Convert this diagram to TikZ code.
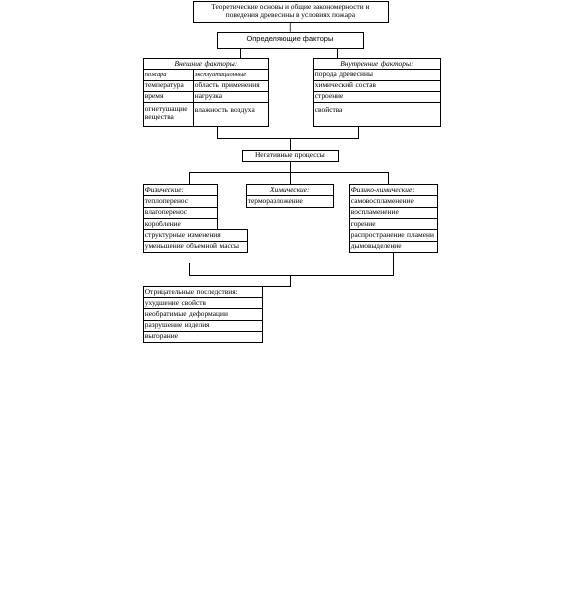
\documentclass[tikz,border=0pt]{standalone}
\usepackage{fontspec}
\setmainfont{Liberation Serif}
\setsansfont{Liberation Sans}
\usetikzlibrary{positioning}

\newcommand{\cellfont}{\fontsize{7.4}{8.2}\selectfont}

\tikzset{
  cellbase/.style={draw, line width=.8pt, anchor=north west, inner xsep=1.5pt,
    inner ysep=0pt, minimum height=11.3pt, align=left, font=\cellfont},
  cell/.style={cellbase, text height=5.6pt, text depth=1.6pt},
  headc/.style={cell, align=center, font=\cellfont\itshape},
  headl/.style={cell, font=\cellfont\itshape},
  box/.style={draw, line width=.8pt, align=center, inner sep=1pt, font=\cellfont},
  link/.style={line width=.8pt}
}

\begin{document}
\begin{tikzpicture}[x=1pt,y=-1pt]
    \useasboundingbox (0,0) rectangle (568,615);
    %title
    \node[box, minimum width=195pt, minimum height=21pt] (title) at (290.5,11.5)
      {Теоретические основы и общие закономерности и\\поведения древесины в условиях пожара};
    \node[box, minimum width=146pt, minimum height=16pt, font=\sffamily\cellfont] (factors) at (290,40)
      {Определяющие факторы};
    %external factors
    \node[headc, text width=122pt] (ext-h) at (143,58) {Внешние факторы:};
    \node[cell, text width=47pt, minimum height=11pt, font=\fontsize{6.4}{7}\selectfont\itshape] (ext-a1) at (143,69) {пожара};
    \node[cell, text width=72pt, minimum height=11pt, font=\fontsize{6.4}{7}\selectfont\itshape] (ext-b1) at (193,69) {эксплуатационные};
    \node[cell, text width=47pt, minimum height=11pt] (ext-a2) at (143,80) {температура};
    \node[cell, text width=72pt, minimum height=11pt] (ext-b2) at (193,80) {область применения};
    \node[cell, text width=47pt, minimum height=11pt] (ext-a3) at (143,91) {время};
    \node[cell, text width=72pt, minimum height=11pt] (ext-b3) at (193,91) {нагрузка};
    \node[cellbase, text width=47pt, minimum height=24pt] (ext-a4) at (143,102) {огнетушащие\\вещества};
    \node[cellbase, text width=72pt, minimum height=24pt] (ext-b4) at (193,102) {влажность воздуха\\\mbox{}};
    %internal factors
    \node[headc, text width=124pt] (int-h) at (313,58) {Внутренние факторы:};
    \node[cell, text width=124pt, minimum height=11pt] (int-1) at (313,69) {порода древесины};
    \node[cell, text width=124pt, minimum height=11pt] (int-2) at (313,80) {химический состав};
    \node[cell, text width=124pt, minimum height=11pt] (int-3) at (313,91) {строение};
    \node[cellbase, text width=124pt, minimum height=24pt] (int-4) at (313,102) {свойства\\\mbox{}};
    %negative processes
    \node[box, minimum width=96pt, minimum height=11pt] (neg) at (290,155.5) {Негативные процессы};
    %physical
    \node[headl, text width=71pt] (phys-h) at (143,184) {Физические:};
    \node[cell, text width=71pt] (phys-1) at (143,195.3) {теплоперенос};
    \node[cell, text width=71pt] (phys-2) at (143,206.7) {влагоперенос};
    \node[cell, text width=71pt] (phys-3) at (143,218) {коробление};
    \node[cell, text width=101pt] (phys-4) at (143,229.3) {структурные изменения};
    \node[cell, text width=101pt] (phys-5) at (143,240.7) {уменьшение объемной массы};
    %chemical
    \node[headc, text width=84pt] (chem-h) at (246,184) {Химические:};
    \node[cell, text width=84pt] (chem-1) at (246,195.3) {терморазложение};
    %physico-chemical
    \node[headl, text width=85pt] (pch-h) at (349,184) {Физико-химические:};
    \node[cell, text width=85pt] (pch-1) at (349,195.3) {самовоспламенение};
    \node[cell, text width=85pt] (pch-2) at (349,206.7) {воспламенение};
    \node[cell, text width=85pt] (pch-3) at (349,218) {горение};
    \node[cell, text width=85pt] (pch-4) at (349,229.3) {распространение пламени};
    \node[cell, text width=85pt] (pch-5) at (349,240.7) {дымовыделение};
    %consequences
    \node[cell, text width=116pt, minimum height=11.2pt] (cons-h) at (143,286) {Отрицательные последствия:};
    \node[cell, text width=116pt, minimum height=11.2pt] (cons-1) at (143,297.2) {ухудшение свойств};
    \node[cell, text width=116pt, minimum height=11.2pt] (cons-2) at (143,308.4) {необратимые деформации};
    \node[cell, text width=116pt, minimum height=11.2pt] (cons-3) at (143,319.6) {разрушение изделия};
    \node[cell, text width=116pt, minimum height=11.2pt] (cons-4) at (143,330.8) {выгорание};
    %junctions
    \coordinate (j1l) at (240,58);
    \coordinate (j1r) at (337,58);
    \coordinate (j2l) at (217,138);
    \coordinate (j2r) at (358,138);
    \coordinate (j3l) at (189,172);
    \coordinate (j3r) at (388,172);
    \coordinate (j4s) at (189,263);
    \coordinate (j4l) at (189,275);
    \coordinate (j4r) at (393,275);
    %connectors
    \draw[link] (title) -- (factors);
    \draw[link] (factors.south -| j1l) -- (j1l);
    \draw[link] (factors.south -| j1r) -- (j1r);
    \draw[link] (ext-b4.south -| j2l) -- (j2l) -- (j2r) -- (int-4.south -| j2r);
    \draw[link] (j2l -| neg.north) -- (neg.north);
    \draw[link] (neg.south) -- (neg.south |- j3l);
    \draw[link] (phys-h.north -| j3l) -- (j3l) -- (j3r) -- (pch-h.north -| j3r);
    \draw[link] (neg.south |- j3l) -- (chem-h.north -| neg.south);
    \draw[link] (j4s) -- (j4l) -- (j4r) -- (pch-5.south -| j4r);
    \draw[link] (j4l -| neg.south) -- (cons-h.north east -| neg.south) -- (cons-h.north east);
\end{tikzpicture}
\end{document}
